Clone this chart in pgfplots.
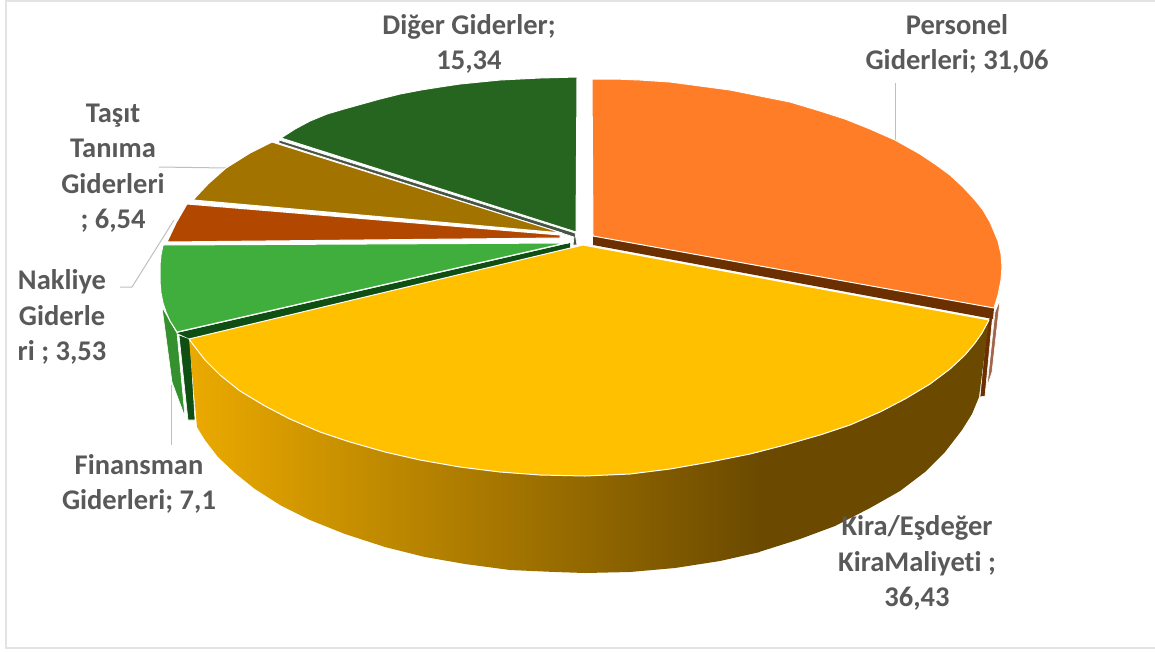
\documentclass[border=0pt]{standalone}
\usepackage{fontspec}
\setmainfont{Carlito}[Ligatures=NoCommon]
\usepackage{pgfplots}
\pgfplotsset{compat=1.18}
\definecolor{lbl}{HTML}{595959}
\definecolor{leader}{HTML}{BFBFBF}
\definecolor{frame}{HTML}{E3E3E3}
\definecolor{cPersonel}{HTML}{FF7D26}
\definecolor{cKira}{HTML}{FFC000}
\definecolor{cFinans}{HTML}{3FAE3C}
\definecolor{cNakliye}{HTML}{B24700}
\definecolor{cTasit}{HTML}{A37300}
\definecolor{cDiger}{HTML}{25651F}
\definecolor{sFinans}{HTML}{35912D}
\definecolor{sDark}{HTML}{0F4F14}
\definecolor{sBrown}{HTML}{6B2F00}
\definecolor{sSliver}{HTML}{A0654A}
\definecolor{sGray}{HTML}{465546}
\definecolor{kiraA}{HTML}{EBAA00}
\definecolor{kiraB}{HTML}{6B4A00}
\tikzset{
  wedge/.style={fill=#1, draw=white, line width=1pt, line join=round},
  side/.style={fill=#1, draw=white, line width=0.6pt, line join=round},
  lead/.style={draw=leader, line width=1pt},
  lab/.style={font=\fontsize{28.5}{35.5}\selectfont\bfseries, text=lbl, align=center, inner sep=0pt},
}
\begin{document}
\begin{tikzpicture}
\begin{axis}[
    scale only axis, width=1155pt, height=651pt,
    xmin=0, xmax=1155, ymin=0, ymax=651, y dir=reverse,
    axis lines=none, ticks=none,
]
% keeps the page as large as the whole axis
\addplot[draw=none] coordinates {(0,0) (1155,651)};
% frame
\addplot[draw=frame, line width=2pt] coordinates {(1155,1) (6,1) (6,648) (1155,648)};

% leader lines behind the pie
\addplot[lead] coordinates {(895,83) (895,140)};
\addplot[lead] coordinates {(159,167) (226,168)};
\addplot[lead] coordinates {(120,287) (132,287) (174,220)};
\addplot[lead] coordinates {(171,385) (171,445)};

% Finansman side and cut face
\addplot[side=sFinans] coordinates {(162,307) (177,333) (185,417) (172,382)} --cycle;
\addplot[side=sDark] coordinates {(179,335) (190,339) (195,420) (188,420)} --cycle;

% Personel slivers on the far right
\addplot[side=sSliver] coordinates {(1000,300) (995,312) (987,387) (992,372)} --cycle;
\addplot[side=sBrown] coordinates {(993,312) (987,322) (980,397) (985,396)} --cycle;
\addplot[fill=sBrown, draw=none] coordinates {(593,236) (994,308) (993,319) (593,245)} --cycle;

% Kira side, shaded then flat
\addplot[left color=kiraA, right color=kiraB, draw=none] coordinates {
  (189,339) (195,347) (205,360) (220,375) (240,391) (265,406) (290,419) (320,432) (350,442)
  (385,452) (420,460) (460,467) (500,472) (540,475) (585,476) (630,474) (670,469) (710,462)
  (750,454) (760,452)
  (760,552) (720,561) (675,568) (630,572) (585,573) (555,572) (510,570) (465,564) (425,557)
  (385,547) (345,534) (310,520) (280,505) (255,489) (235,473) (218,457) (205,440) (197,427)} --cycle;
\addplot[fill=kiraB, draw=none] coordinates {
  (759,452) (785,445) (820,435) (850,425) (880,412) (905,399) (930,384) (950,369) (965,355)
  (975,343) (982,333) (989,320)
  (979,397) (972,414) (962,430) (945,452) (925,472) (900,491) (870,508) (835,526) (800,539)
  (759,552)} --cycle;

% dark strips near the centre
\addplot[fill=sDark, draw=none] coordinates {(177,333) (570,243) (570,248) (190,339)} --cycle;
\addplot[fill=sGray, draw=white, line width=0.7pt] coordinates {(279,140) (575,233) (577,245) (573,245) (574,237) (279,143)} --cycle;

% top faces
\addplot[wedge=cDiger] coordinates {
  (577,77) (540,78) (500,80) (480,82) (460,84) (440,87) (421,90) (400,94) (380,99) (362,104)
  (344,109) (327,114) (310,121) (295,129) (281,138) (576,232)} --cycle;
\addplot[wedge=cTasit] coordinates {(272,142) (250,153) (226,168) (208,184) (193,200) (562,233)} --cycle;
\addplot[wedge=cNakliye] coordinates {(187,204) (176,223) (167,242) (560,238) (560,235)} --cycle;
\addplot[wedge=cFinans] coordinates {
  (163,245) (161,255) (160,265) (160,275) (160,282) (161,293) (163,303) (166,312) (170,321)
  (177,332) (570,242) (568,243)} --cycle;
\addplot[wedge=cPersonel] coordinates {
  (592,79) (615,79) (640,80) (670,82) (700,86) (730,90) (760,96) (790,102) (820,111) (845,119)
  (870,129) (895,140) (920,154) (935,164) (950,175) (963,187) (975,200) (983,210) (990,222)
  (998,241) (1001,254) (1002,267) (1001,280) (998,295) (994,308) (593,236)} --cycle;
\addplot[wedge=cKira] coordinates {
  (583,245) (989,320) (982,333) (975,343) (965,355) (950,369) (930,384) (905,399) (880,412)
  (850,425) (820,435) (785,445) (750,454) (710,462) (670,469) (630,474) (585,476) (540,475)
  (500,472) (460,467) (420,460) (385,452) (350,442) (320,432) (290,419) (265,406) (240,391)
  (220,375) (205,360) (195,347) (189,339)} --cycle;

% data labels
\node[lab] at (axis cs:469,44) {Diğer Giderler;\\15,34};
\node[lab] at (axis cs:957,44) {Personel\\Giderleri; 31,06};
\node[lab] at (axis cs:113,168) {Taşıt\\Tanıma\\Giderleri\\; 6,54};
\node[lab] at (axis cs:62,317) {Nakliye\\Giderle\\ri ; 3,53};
\node[lab] at (axis cs:139,484) {Finansman\\Giderleri; 7,1};
\node[lab] at (axis cs:917,563) {Kira/Eşdeğer\\KiraMaliyeti ;\\36,43};
\end{axis}
\end{tikzpicture}
\end{document}
